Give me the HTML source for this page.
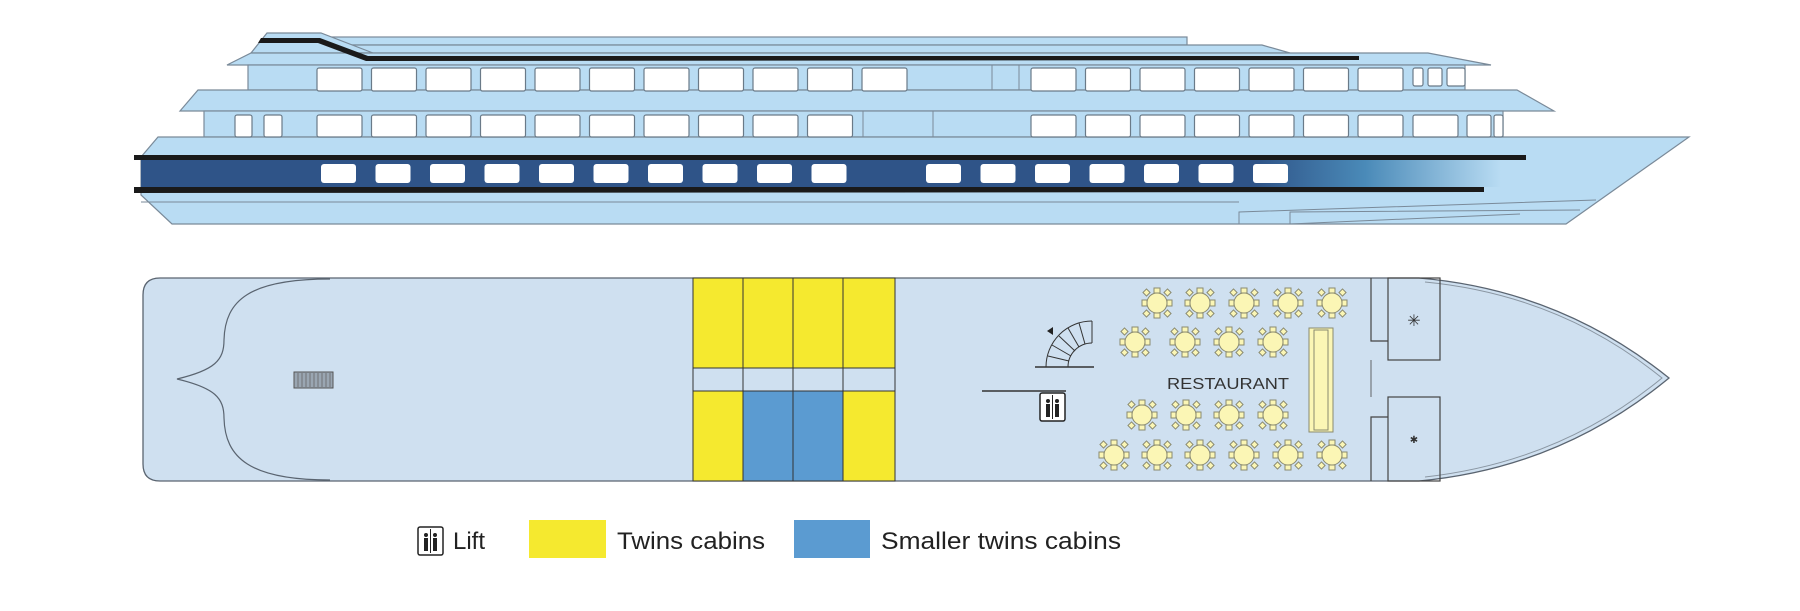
<!DOCTYPE html>
<html><head><meta charset="utf-8"><style>
html,body{margin:0;padding:0;background:#fff}
svg{display:block}
text{font-family:"Liberation Sans",sans-serif}
</style></head><body>
<svg width="1800" height="611" viewBox="0 0 1800 611" xmlns="http://www.w3.org/2000/svg">
<defs>
<linearGradient id="bg" x1="0" x2="1" y1="0" y2="0">
<stop offset="0" stop-color="#2f5488"/><stop offset="0.82" stop-color="#2f5488"/><stop offset="0.9" stop-color="#4a8ab8"/><stop offset="1" stop-color="#b9dcf3"/>
</linearGradient>
<g id="tb">
<g fill="#fbf6b5" stroke="#8a8a70" stroke-width="1">
<rect x="-3" y="-15" width="6" height="5"/><rect x="-3" y="10" width="6" height="5"/>
<rect x="-15" y="-3" width="5" height="6"/><rect x="10" y="-3" width="5" height="6"/>
<rect x="-13" y="-13" width="5" height="5" transform="rotate(45 -10.5 -10.5)"/>
<rect x="8" y="-13" width="5" height="5" transform="rotate(45 10.5 -10.5)"/>
<rect x="-13" y="8" width="5" height="5" transform="rotate(45 -10.5 10.5)"/>
<rect x="8" y="8" width="5" height="5" transform="rotate(45 10.5 10.5)"/>
<circle r="10"/></g></g>
<g id="lift"><rect x="0" y="0" width="25" height="28" rx="2" fill="#fff" stroke="#222" stroke-width="1.5"/>
<circle cx="8" cy="8" r="2" fill="#222"/><rect x="6" y="11" width="4" height="13" fill="#222"/>
<circle cx="17" cy="8" r="2" fill="#222"/><rect x="15" y="11" width="4" height="13" fill="#222"/>
<line x1="12.5" y1="2" x2="12.5" y2="26" stroke="#222"/></g>
</defs>

<!-- SIDE VIEW -->
<g stroke="#7a8a99" stroke-width="1.2" fill="#b9dcf3">
<rect x="320" y="37" width="867" height="8"/>
<polygon points="320,45 1262,45 1290,53 320,53"/>
<polygon points="267,33 321,33 373,53 251,53"/>
<polygon points="251,53 1428,53 1491,65 227,65"/>
<rect x="248" y="65" width="1217" height="25"/>
<polygon points="198,90 1517,90 1554,111 180,111"/>
<rect x="204" y="111" width="1299" height="26"/>
<polygon points="158,137 1689,137 1566,224 172,224 141,195 141,157"/>
</g>
<polygon points="261,38 320,38 368,56 1359,56 1359,60 366,61 318,43 258,43" fill="#1a1a1a"/>
<rect x="141" y="160" width="1360" height="27" fill="url(#bg)"/>
<rect x="134" y="155" width="1392" height="5" fill="#1a1a1a"/>
<polygon points="134,187 1484,187 1484,192 134,193" fill="#1a1a1a"/>
<g stroke="#7a8a99" stroke-width="1" fill="none">
<line x1="141" y1="202" x2="1239" y2="202"/>
<polyline points="1239,224 1239,212 1596,200"/>
<polyline points="1290,224 1290,212 1580,210"/>
<line x1="1290" y1="224" x2="1520" y2="214"/>
<line x1="992" y1="65" x2="992" y2="90"/><line x1="1019" y1="65" x2="1019" y2="90"/>
<line x1="933" y1="111" x2="933" y2="137"/><line x1="863" y1="111" x2="863" y2="137"/>
</g>
<g fill="#fff" stroke="#6a7a88" stroke-width="1.2">
<rect x="317" y="68" width="45" height="23" rx="2"/><rect x="371.5" y="68" width="45" height="23" rx="2"/><rect x="426" y="68" width="45" height="23" rx="2"/><rect x="480.5" y="68" width="45" height="23" rx="2"/><rect x="535" y="68" width="45" height="23" rx="2"/><rect x="589.5" y="68" width="45" height="23" rx="2"/><rect x="644" y="68" width="45" height="23" rx="2"/><rect x="698.5" y="68" width="45" height="23" rx="2"/><rect x="753" y="68" width="45" height="23" rx="2"/><rect x="807.5" y="68" width="45" height="23" rx="2"/><rect x="862" y="68" width="45" height="23" rx="2"/>
<rect x="1031" y="68" width="45" height="23" rx="2"/><rect x="1085.5" y="68" width="45" height="23" rx="2"/><rect x="1140" y="68" width="45" height="23" rx="2"/><rect x="1194.5" y="68" width="45" height="23" rx="2"/><rect x="1249" y="68" width="45" height="23" rx="2"/><rect x="1303.5" y="68" width="45" height="23" rx="2"/><rect x="1358" y="68" width="45" height="23" rx="2"/>
<rect x="1413" y="68" width="10" height="18" rx="2"/><rect x="1428" y="68" width="14" height="18" rx="2"/><rect x="1447" y="68" width="18" height="18" rx="2"/>
<rect x="235" y="115" width="17" height="22" rx="2"/><rect x="264" y="115" width="18" height="22" rx="2"/>
<rect x="317" y="115" width="45" height="22" rx="2"/><rect x="371.5" y="115" width="45" height="22" rx="2"/><rect x="426" y="115" width="45" height="22" rx="2"/><rect x="480.5" y="115" width="45" height="22" rx="2"/><rect x="535" y="115" width="45" height="22" rx="2"/><rect x="589.5" y="115" width="45" height="22" rx="2"/><rect x="644" y="115" width="45" height="22" rx="2"/><rect x="698.5" y="115" width="45" height="22" rx="2"/><rect x="753" y="115" width="45" height="22" rx="2"/><rect x="807.5" y="115" width="45" height="22" rx="2"/>
<rect x="1031" y="115" width="45" height="22" rx="2"/><rect x="1085.5" y="115" width="45" height="22" rx="2"/><rect x="1140" y="115" width="45" height="22" rx="2"/><rect x="1194.5" y="115" width="45" height="22" rx="2"/><rect x="1249" y="115" width="45" height="22" rx="2"/><rect x="1303.5" y="115" width="45" height="22" rx="2"/><rect x="1358" y="115" width="45" height="22" rx="2"/><rect x="1413" y="115" width="45" height="22" rx="2"/>
<rect x="1467" y="115" width="24" height="22" rx="2"/><rect x="1494" y="115" width="9" height="22" rx="2"/>
</g>
<g fill="#fff">
<rect x="321" y="164" width="35" height="19" rx="3"/><rect x="375.5" y="164" width="35" height="19" rx="3"/><rect x="430" y="164" width="35" height="19" rx="3"/><rect x="484.5" y="164" width="35" height="19" rx="3"/><rect x="539" y="164" width="35" height="19" rx="3"/><rect x="593.5" y="164" width="35" height="19" rx="3"/><rect x="648" y="164" width="35" height="19" rx="3"/><rect x="702.5" y="164" width="35" height="19" rx="3"/><rect x="757" y="164" width="35" height="19" rx="3"/><rect x="811.5" y="164" width="35" height="19" rx="3"/>
<rect x="926" y="164" width="35" height="19" rx="3"/><rect x="980.5" y="164" width="35" height="19" rx="3"/><rect x="1035" y="164" width="35" height="19" rx="3"/><rect x="1089.5" y="164" width="35" height="19" rx="3"/><rect x="1144" y="164" width="35" height="19" rx="3"/><rect x="1198.5" y="164" width="35" height="19" rx="3"/><rect x="1253" y="164" width="35" height="19" rx="3"/>
</g>

<!-- PLAN VIEW -->
<path d="M160,278 L1419,278 Q1560,290 1669,378 Q1560,468 1419,481 L160,481 Q143,481 143,464 L143,295 Q143,278 160,278 Z" fill="#cfe0f0" stroke="#5a6470" stroke-width="1.3"/>
<path d="M1425,282 Q1560,295 1662,378 Q1560,462 1425,477" fill="none" stroke="#8a96a2" stroke-width="1"/>
<path d="M330,279 C250,279 225,300 224,340 C224,360 215,370 177,379 C215,388 224,398 224,418 C225,458 250,480 330,480" fill="none" stroke="#5a6470" stroke-width="1.2"/>
<rect x="294" y="372" width="39" height="16" fill="#9aa6b2" stroke="#555"/>
<g stroke="#666" stroke-width="0.8"><line x1="298" y1="373" x2="298" y2="387"/><line x1="302" y1="373" x2="302" y2="387"/><line x1="306" y1="373" x2="306" y2="387"/><line x1="310" y1="373" x2="310" y2="387"/><line x1="314" y1="373" x2="314" y2="387"/><line x1="318" y1="373" x2="318" y2="387"/><line x1="322" y1="373" x2="322" y2="387"/><line x1="326" y1="373" x2="326" y2="387"/><line x1="330" y1="373" x2="330" y2="387"/></g>
<g stroke="#333" stroke-width="1">
<rect x="693" y="278" width="50" height="90" fill="#f5e92f"/><rect x="743" y="278" width="50" height="90" fill="#f5e92f"/><rect x="793" y="278" width="50" height="90" fill="#f5e92f"/><rect x="843" y="278" width="52" height="90" fill="#f5e92f"/>
<rect x="693" y="368" width="50" height="23" fill="#cfe0f0"/><rect x="743" y="368" width="50" height="23" fill="#cfe0f0"/><rect x="793" y="368" width="50" height="23" fill="#cfe0f0"/><rect x="843" y="368" width="52" height="23" fill="#cfe0f0"/>
<rect x="693" y="391" width="50" height="90" fill="#f5e92f"/><rect x="743" y="391" width="50" height="90" fill="#5b9bd1"/><rect x="793" y="391" width="50" height="90" fill="#5b9bd1"/><rect x="843" y="391" width="52" height="90" fill="#f5e92f"/>
</g>
<g stroke="#333" stroke-width="1" fill="none">
<path d="M1092,321 A46,46 0 0 0 1046,367"/>
<path d="M1092,343 A24,24 0 0 0 1068,367"/>
<line x1="1092" y1="321" x2="1092" y2="343"/>
<line x1="1079" y1="323" x2="1085" y2="344"/><line x1="1068" y1="328" x2="1079" y2="347"/><line x1="1059" y1="336" x2="1075" y2="351"/><line x1="1052" y1="345" x2="1071" y2="356"/><line x1="1048" y1="356" x2="1069" y2="361"/>
<line x1="1035" y1="367" x2="1094" y2="367" stroke-width="1.5"/>
<line x1="982" y1="391" x2="1066" y2="391" stroke-width="1.5"/>
</g>
<polygon points="1047,331 1053,327 1053,335" fill="#222"/>
<use href="#lift" x="1040" y="393"/>
<g stroke="#444" stroke-width="1.2" fill="none">
<polyline points="1371,278 1371,341 1388,341"/>
<rect x="1388" y="278" width="52" height="82"/>
<rect x="1388" y="397" width="52" height="84"/>
<polyline points="1388,417 1371,417 1371,481"/>
<line x1="1371" y1="360" x2="1371" y2="397" stroke-width="0.8"/>
</g>
<text x="1414" y="326" font-size="16" text-anchor="middle" fill="#333">✳</text>
<text x="1414" y="443" font-size="10" text-anchor="middle" fill="#333">✱</text>
<use href="#tb" x="1157" y="303"/><use href="#tb" x="1200" y="303"/><use href="#tb" x="1244" y="303"/><use href="#tb" x="1288" y="303"/><use href="#tb" x="1332" y="303"/>
<use href="#tb" x="1135" y="342"/><use href="#tb" x="1185" y="342"/><use href="#tb" x="1229" y="342"/><use href="#tb" x="1273" y="342"/>
<use href="#tb" x="1142" y="415"/><use href="#tb" x="1186" y="415"/><use href="#tb" x="1229" y="415"/><use href="#tb" x="1273" y="415"/>
<use href="#tb" x="1114" y="455"/><use href="#tb" x="1157" y="455"/><use href="#tb" x="1200" y="455"/><use href="#tb" x="1244" y="455"/><use href="#tb" x="1288" y="455"/><use href="#tb" x="1332" y="455"/>
<rect x="1309" y="328" width="24" height="104" fill="#fbf6b5" stroke="#8a8a70"/>
<rect x="1314" y="330" width="14" height="100" fill="#fbf6b5" stroke="#8a8a70"/>
<text x="1228" y="389" font-size="16" text-anchor="middle" fill="#333" textLength="122" lengthAdjust="spacingAndGlyphs">RESTAURANT</text>

<use href="#lift" x="418" y="527"/>
<text x="453" y="549" font-size="24" fill="#222">Lift</text>
<rect x="529" y="520" width="77" height="38" fill="#f5e92f"/>
<text x="617" y="549" font-size="24" fill="#222" textLength="148" lengthAdjust="spacingAndGlyphs">Twins cabins</text>
<rect x="794" y="520" width="76" height="38" fill="#5b9bd1"/>
<text x="881" y="549" font-size="24" fill="#222" textLength="240" lengthAdjust="spacingAndGlyphs">Smaller twins cabins</text>
</svg>
</body></html>
